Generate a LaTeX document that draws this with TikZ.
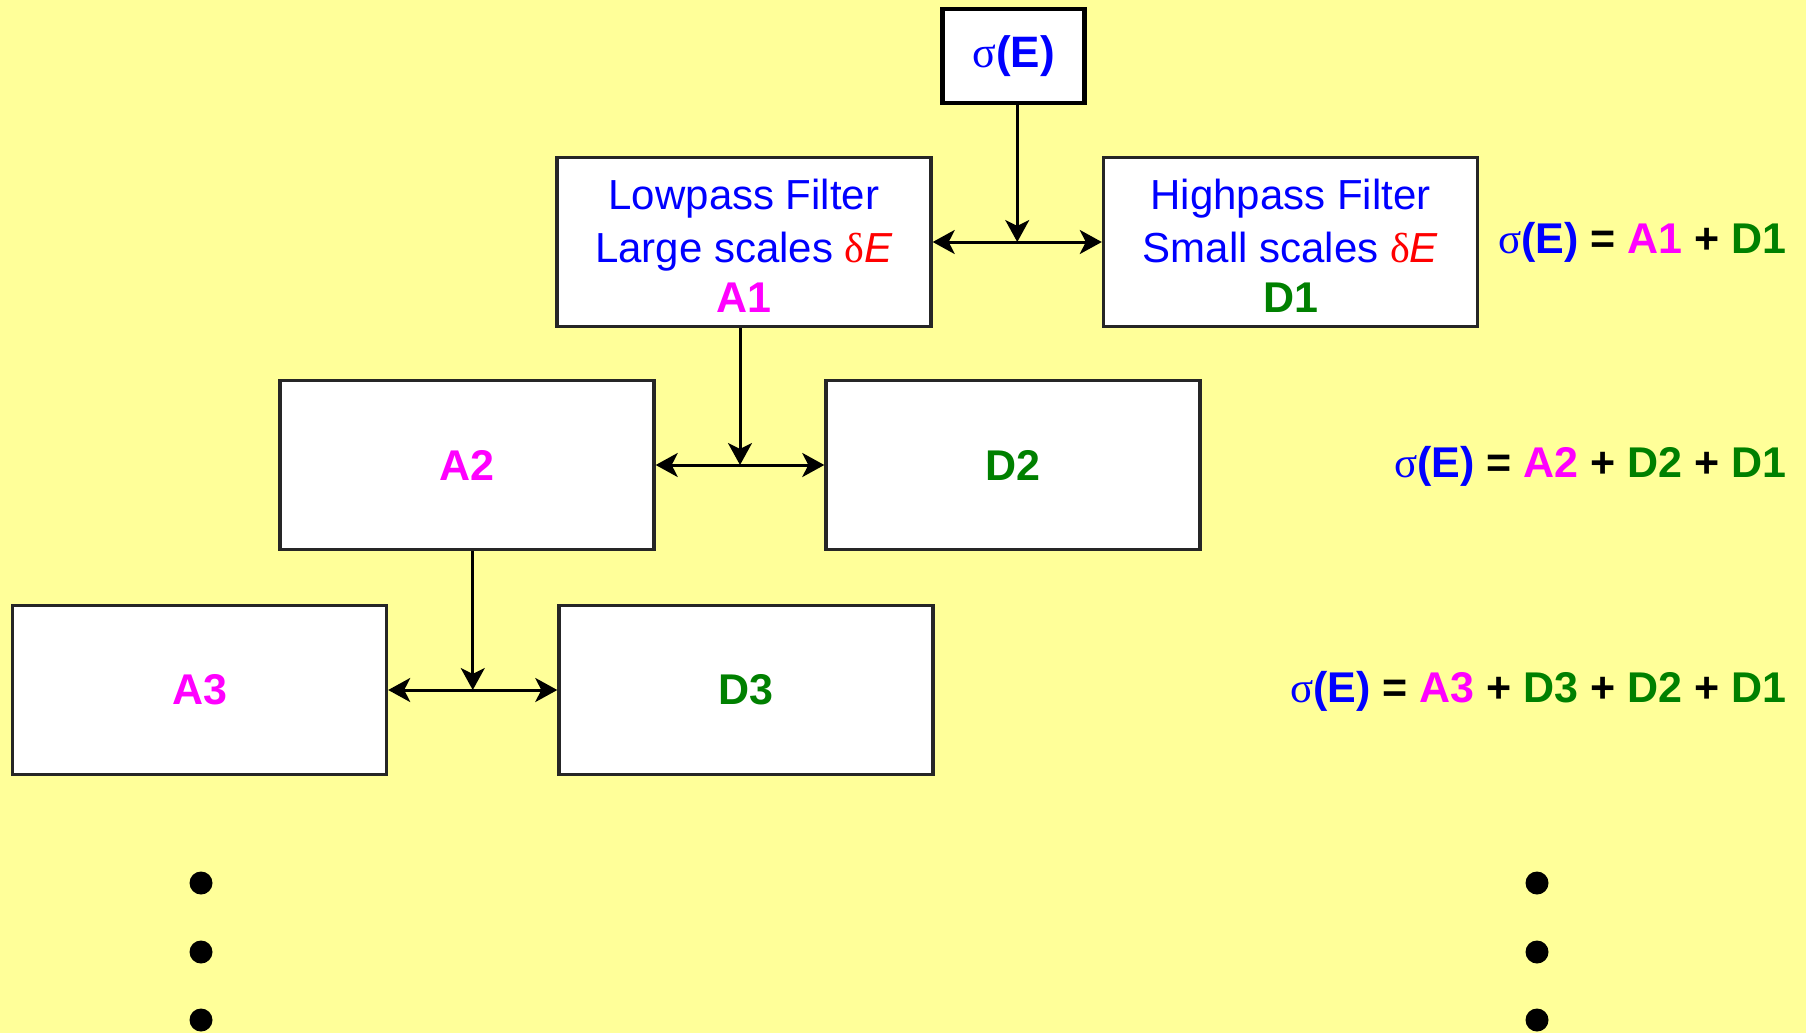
\documentclass[tikz,border=0pt]{standalone}
\usepackage{fontspec}
\setmainfont{Liberation Sans}
\newfontfamily\grk{Liberation Serif}
\usetikzlibrary{arrows.meta,calc}
\definecolor{bgyellow}{RGB}{255,255,153}
\definecolor{tblue}{RGB}{0,0,255}
\definecolor{tmag}{RGB}{255,0,255}
\definecolor{tgreen}{RGB}{0,128,0}
\definecolor{tred}{RGB}{255,0,0}
\newcommand{\sigE}{{\color{tblue}{\grk\mdseries σ}\textbf{(E)}}}
\begin{document}
\begin{tikzpicture}[x=1pt,y=-1pt,
  box/.style={draw=black!85,line width=3.4pt,fill=white,inner sep=0pt,
    minimum width=374pt,minimum height=169pt,align=center},
  topbox/.style={draw=black,line width=4.5pt,fill=white,inner sep=0pt,
    minimum width=142pt,minimum height=94pt},
  regtext/.style={font=\fontsize{42}{53}\selectfont},
  boldtext/.style={font=\fontsize{43}{53}\selectfont\bfseries},
  conn/.style={line width=3pt,black},
  tip/.style={-{Stealth[length=22pt,width=24pt,inset=6pt]}},
  dtip/.style={{Stealth[length=22pt,width=24pt,inset=6pt]}-{Stealth[length=22pt,width=24pt,inset=6pt]}},
  eq/.style={anchor=base east,font=\fontsize{43}{51}\selectfont\bfseries},
  dot/.style={circle,fill=black,inner sep=0pt,minimum size=23pt}
]
\fill[bgyellow] (0,0) rectangle (1806,1033);
\useasboundingbox (0,0) rectangle (1806,1033);

\node[topbox,font=\fontsize{44}{51}\selectfont] (sig) at (1013.5,56) {\sigE};

\node[box,regtext] (lp) at (744,242)
  {\rule{0pt}{38pt}\color{tblue}Lowpass Filter\\
   \color{tblue}Large scales {\color{tred}{\grk δ}\textit{E}}\\[-3pt]
   {\fontsize{43}{53}\selectfont\bfseries\color{tmag}A1}};
\node[box,regtext] (hp) at (1290.5,242)
  {\rule{0pt}{38pt}\color{tblue}Highpass Filter\\
   \color{tblue}Small scales {\color{tred}{\grk δ}\textit{E}}\\[-3pt]
   {\fontsize{43}{53}\selectfont\bfseries\color{tgreen}D1}};

\node[box,boldtext,text=tmag] (a2) at (467,465) {A2};
\node[box,boldtext,text=tgreen] (d2) at (1013,465) {D2};
\node[box,boldtext,text=tmag] (a3) at (199.5,690) {A3};
\node[box,boldtext,text=tgreen] (d3) at (746,690) {D3};

\coordinate (j1) at ($(lp.east)!0.5!(hp.west)$);
\coordinate (j2) at ($(a2.east)!0.5!(d2.west)$);
\coordinate (j3) at ($(a3.east)!0.5!(d3.west)$);

\draw[conn,tip] (j1 |- sig.south) -- (j1);
\draw[conn,dtip] (lp.east) -- (hp.west);
\draw[conn,tip] (j2 |- lp.south) -- (j2);
\draw[conn,dtip] (a2.east) -- (d2.west);
\draw[conn,tip] (j3 |- a2.south) -- (j3);
\draw[conn,dtip] (a3.east) -- (d3.west);

\node[eq] (eq1) at (1790,253) {\sigE{} = {\color{tmag}A1} + {\color{tgreen}D1}};
\node[eq] (eq2) at (1790,477) {\sigE{} = {\color{tmag}A2} + {\color{tgreen}D2} + {\color{tgreen}D1}};
\node[eq] (eq3) at (1790,702) {\sigE{} = {\color{tmag}A3} + {\color{tgreen}D3} + {\color{tgreen}D2} + {\color{tgreen}D1}};

\node[dot] (l1) at (201,883) {};
\node[dot] (l2) at (201,952) {};
\node[dot] (l3) at (201,1020) {};
\node[dot] (r1) at (1537,883) {};
\node[dot] (r2) at (1537,952) {};
\node[dot] (r3) at (1537,1020) {};
\end{tikzpicture}
\end{document}
